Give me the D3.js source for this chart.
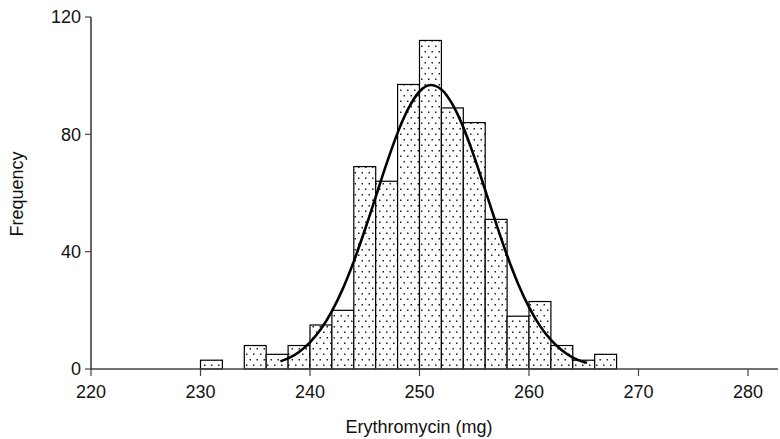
<!DOCTYPE html>
<html><head><meta charset="utf-8">
<script src="https://cdn.jsdelivr.net/npm/d3@7/dist/d3.min.js"></script>
<style>body{margin:0;background:#fff}svg{display:block}</style>
</head><body>
<svg id="c" width="780" height="439"></svg>
<script>
// Data
const binStarts = [230,232,234,236,238,240,242,244,246,248,250,252,254,256,258,260,262,264,266];
const binWidth = 2;
const counts = [3,0,8,5,8,15,20,69,64,97,112,89,84,51,18,23,8,3,5];
const curveX = [237.3,238,239,240,241,242,243,244,245,246,247,248,249,250,251,252,253,254,255,256,257,258,259,260,261,262,263,264,265,265.3];
const curveY = [2.6,3.6,5.8,9.1,13.6,19.7,27.4,36.7,47.3,58.7,70.1,80.5,88.9,94.6,96.8,95.3,90.3,82.4,72.3,61.0,49.6,38.7,29.1,21.1,14.7,9.9,6.4,3.9,2.4,2.1];
const xTicks = [220,230,240,250,260,270,280];
const yTicks = [0,40,80,120];

const svg = d3.select("#c");
const x = d3.scaleLinear().domain([220,280]).range([91,748]);
const y = d3.scaleLinear().domain([0,120]).range([369,17]);
const font = "Liberation Sans, Arial, Helvetica, sans-serif";

const defs = svg.append("defs");
const pat = defs.append("pattern").attr("id","dots").attr("patternUnits","userSpaceOnUse")
  .attr("width",7).attr("height",11);
pat.append("rect").attr("width",7).attr("height",11).attr("fill","#fff");
pat.append("rect").attr("x",1).attr("y",1.5).attr("width",1.5).attr("height",1.5).attr("fill","#222");
pat.append("rect").attr("x",4.5).attr("y",7).attr("width",1.5).attr("height",1.5).attr("fill","#222");

// bars
svg.append("g").selectAll("rect").data(binStarts.map((b,i)=>({b,c:counts[i]})).filter(d=>d.c>0))
  .join("rect")
  .attr("x",d=>x(d.b)).attr("width",d=>x(d.b+binWidth)-x(d.b))
  .attr("y",d=>y(d.c)).attr("height",d=>y(0)-y(d.c))
  .attr("fill","url(#dots)").attr("stroke","#000").attr("stroke-width",1.2);

// curve
const line = d3.line().x((d,i)=>x(curveX[i])).y(d=>y(d)).curve(d3.curveMonotoneX);
svg.append("path").attr("d",line(curveY)).attr("fill","none").attr("stroke","#000").attr("stroke-width",2.6);

// x axis
const xa = svg.append("g").attr("transform",`translate(0,${y(0)})`);
xa.append("line").attr("x1",x(220)).attr("x2",778).attr("stroke","#444").attr("stroke-width",1.6);
xa.selectAll(".t").data(xTicks).join("line").attr("class","t")
  .attr("x1",d=>x(d)).attr("x2",d=>x(d)).attr("y1",0).attr("y2",7).attr("stroke","#444").attr("stroke-width",1.2);
xa.selectAll("text").data(xTicks).join("text")
  .attr("x",d=>x(d)).attr("y",29).attr("text-anchor","middle")
  .attr("font-family",font).attr("font-size",18).attr("fill","#111").text(d=>d);

// y axis
const ya = svg.append("g");
ya.append("line").attr("x1",x(220)).attr("x2",x(220)).attr("y1",y(120)).attr("y2",y(0)).attr("stroke","#000").attr("stroke-width",1.2);
ya.selectAll(".t").data(yTicks).join("line").attr("class","t")
  .attr("x1",x(220)-6).attr("x2",x(220)).attr("y1",d=>y(d)).attr("y2",d=>y(d)).attr("stroke","#444").attr("stroke-width",1.2);
ya.selectAll("text").data(yTicks).join("text")
  .attr("x",x(220)-10).attr("y",d=>y(d)).attr("dy","0.35em").attr("text-anchor","end")
  .attr("font-family",font).attr("font-size",18).attr("fill","#111").text(d=>d);

svg.append("text").attr("x",419).attr("y",433).attr("text-anchor","middle")
  .attr("font-family",font).attr("font-size",18).attr("fill","#111").text("Erythromycin (mg)");
svg.append("text").attr("transform","translate(23,194) rotate(-90)").attr("text-anchor","middle")
  .attr("font-family",font).attr("font-size",18).attr("fill","#111").text("Frequency");
</script>
</body></html>
